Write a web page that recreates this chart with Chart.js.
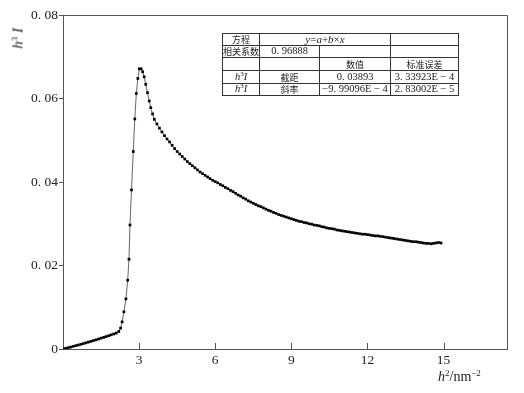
<!DOCTYPE html>
<html>
<head>
<meta charset="utf-8">
<script src="https://cdn.jsdelivr.net/npm/chart.js@4/dist/chart.umd.min.js"></script>
<style>
  html, body { margin: 0; padding: 0; background: #fff; }
  #wrap { position: relative; width: 524px; height: 393px; }
  #c { position: absolute; left: 0; top: 0; }
  .serif { font-family: "Liberation Serif", "Noto Sans CJK SC", serif; color: #222; }
  #ytitle { position: absolute; left: 1px; top: 30px; width: 34px; text-align: center;
            font-size: 15px; transform: rotate(-90deg); white-space: nowrap; }
  #xtitle { position: absolute; left: 438px; top: 369px; font-size: 14px; white-space: nowrap; }
  sup { font-size: 9px; vertical-align: 5px; line-height: 0; }
  #fit { position: absolute; left: 222px; top: 33px; border-collapse: collapse;
         table-layout: fixed; width: 236px; font-size: 10.5px; }
  #fit td { border: 1px solid #333; padding: 0; text-align: center; white-space: nowrap;
            line-height: 1; overflow: hidden; }
  #fit .cjk { font-family: "Noto Sans CJK SC", sans-serif; font-size: 9px; }
  #fit .eq { font-size: 11px; }
  #fit sup { font-size: 7px; vertical-align: 4px; }
</style>
</head>
<body>
<div id="wrap">
  <canvas id="c" width="524" height="393"></canvas>
  <div id="ytitle" class="serif"><i>h</i><sup>3</sup> <i>I</i></div>
  <div id="xtitle" class="serif"><i>h</i><sup>2</sup>/nm<sup>−2</sup></div>
  <table id="fit" class="serif">
    <colgroup><col style="width:37px"><col style="width:60px"><col style="width:71px"><col style="width:68px"></colgroup>
    <tr style="height:12px"><td class="cjk">方程</td><td colspan="2" class="eq"><i>y</i>=<i>a</i>+<i>b</i>×<i>x</i></td><td></td></tr>
    <tr style="height:12px"><td class="cjk">相关系数</td><td>0. 96888</td><td></td><td></td></tr>
    <tr style="height:13px"><td></td><td></td><td class="cjk">数值</td><td class="cjk">标准误差</td></tr>
    <tr style="height:13px"><td><i>h</i><sup>3</sup><i>I</i></td><td class="cjk">截距</td><td>0. 03893</td><td>3. 33923E − 4</td></tr>
    <tr style="height:12px"><td><i>h</i><sup>3</sup><i>I</i></td><td class="cjk">斜率</td><td>−9. 99096E − 4</td><td>2. 83002E − 5</td></tr>
  </table>
</div>
<script>
// low-q region, slow rise
const earlyX = [0, 0.1, 0.2, 0.3, 0.4, 0.5, 0.6, 0.7, 0.8, 0.9, 1.0, 1.1, 1.2, 1.3, 1.4, 1.5,
  1.6, 1.7, 1.8, 1.9, 2.0, 2.1, 2.2];
const earlyY = [0, 0.00015, 0.0003, 0.00046, 0.00062, 0.00079, 0.00095, 0.00112, 0.0013, 0.00147,
  0.00165, 0.00183, 0.00202, 0.0022, 0.00239, 0.00259, 0.00278, 0.00298, 0.00318, 0.00339,
  0.0036, 0.00382, 0.0042];

// steep rise and the peak near h^2 = 3
const peakX = [2.27, 2.33, 2.4, 2.48, 2.55, 2.6, 2.64, 2.7, 2.77, 2.83, 2.89, 2.95, 3.01, 3.08,
  3.14, 3.2, 3.26, 3.33, 3.4, 3.46, 3.53, 3.6];
const peakY = [0.005, 0.0065, 0.0089, 0.012, 0.0165, 0.0215, 0.0297, 0.0381, 0.0473, 0.0551,
  0.0612, 0.0648, 0.0671, 0.0671, 0.0664, 0.0652, 0.0634, 0.0614, 0.0594, 0.0578, 0.0563, 0.055];

// slow decay tail
const decayX = [3.7, 3.8, 3.9, 4.0, 4.1, 4.2, 4.3, 4.4, 4.5, 4.6, 4.7, 4.8, 4.9, 5.0, 5.1, 5.2,
  5.3, 5.4, 5.5, 5.6, 5.7, 5.8, 5.9, 6.0, 6.1, 6.2, 6.3, 6.4, 6.5, 6.6, 6.7, 6.8, 6.9, 7.0,
  7.1, 7.2, 7.3, 7.4, 7.5, 7.6, 7.7, 7.8, 7.9, 8.0, 8.1, 8.2, 8.3, 8.4, 8.5, 8.6, 8.7, 8.8,
  8.9, 9.0, 9.1, 9.2, 9.3, 9.4, 9.5, 9.6, 9.7, 9.8, 9.9, 10.0, 10.1, 10.2, 10.3, 10.4, 10.5,
  10.6, 10.7, 10.8, 10.9, 11.0, 11.1, 11.2, 11.3, 11.4, 11.5, 11.6, 11.7, 11.8, 11.9, 12.0,
  12.1, 12.2, 12.3, 12.4, 12.5, 12.6, 12.7, 12.8, 12.9, 13.0, 13.1, 13.2, 13.3, 13.4, 13.5,
  13.6, 13.7, 13.8, 13.9, 14.0, 14.1, 14.2, 14.3, 14.4, 14.5, 14.6, 14.7, 14.8, 14.9];
const decayY = [0.0539, 0.0529, 0.052, 0.0511, 0.0503, 0.0496, 0.0488, 0.048, 0.0473, 0.0467,
  0.0461, 0.0455, 0.0449, 0.0444, 0.0439, 0.0434, 0.0429, 0.0424, 0.042, 0.0416, 0.0412,
  0.0408, 0.0404, 0.0401, 0.0398, 0.0394, 0.0391, 0.0387, 0.0384, 0.038, 0.0377, 0.0373,
  0.0369, 0.0366, 0.0362, 0.0359, 0.0355, 0.0352, 0.0349, 0.0346, 0.0343, 0.0341, 0.0338,
  0.0335, 0.0332, 0.033, 0.0327, 0.0325, 0.0322, 0.032, 0.0318, 0.0316, 0.0314, 0.0312,
  0.031, 0.0308, 0.0306, 0.0305, 0.0303, 0.0302, 0.03, 0.0299, 0.0297, 0.0296, 0.0295,
  0.0293, 0.0292, 0.029, 0.0289, 0.0288, 0.0287, 0.0285, 0.0284, 0.0283, 0.0282, 0.0281,
  0.028, 0.0279, 0.0278, 0.0277, 0.0276, 0.0275, 0.0275, 0.0274, 0.0273, 0.0272, 0.0271,
  0.0271, 0.027, 0.0269, 0.0268, 0.0267, 0.0266, 0.0265, 0.0264, 0.0263, 0.0262, 0.0261,
  0.026, 0.0259, 0.0258, 0.0257, 0.0257, 0.0256, 0.0255, 0.0254, 0.0253, 0.0253, 0.0252,
  0.0253, 0.0254, 0.0255, 0.0254];

const xTicks = [3, 6, 9, 12, 15];
const yTickLabels = { 0: '0', 0.02: '0. 02', 0.04: '0. 04', 0.06: '0. 06', 0.08: '0. 08' };

const allX = earlyX.concat(peakX, decayX);
const allY = earlyY.concat(peakY, decayY);
const points = allX.map((x, i) => ({ x: x, y: allY[i] }));

const tickFont = { family: 'Liberation Serif', size: 13.5 };

// frame on top/right and x tick marks pointing into the plot
const framePlugin = {
  id: 'frame',
  afterDraw(chart) {
    const { ctx, chartArea: a, scales } = chart;
    ctx.save();
    ctx.strokeStyle = '#555';
    ctx.lineWidth = 1;
    ctx.beginPath();
    ctx.moveTo(a.left, a.top + 0.5);
    ctx.lineTo(a.right + 0.5, a.top + 0.5);
    ctx.lineTo(a.right + 0.5, a.bottom);
    xTicks.forEach(v => {
      const px = Math.round(scales.x.getPixelForValue(v)) + 0.5;
      ctx.moveTo(px, a.bottom);
      ctx.lineTo(px, a.bottom - 6);
    });
    ctx.stroke();
    ctx.restore();
  }
};

new Chart(document.getElementById('c'), {
  type: 'scatter',
  data: {
    datasets: [{
      data: points,
      showLine: true,
      borderColor: '#555',
      borderWidth: 0.9,
      pointStyle: 'rect',
      pointRadius: 1.9,
      pointBorderWidth: 0,
      pointBackgroundColor: '#000'
    }]
  },
  options: {
    responsive: false,
    animation: false,
    layout: { padding: { top: 15, right: 17, left: 0, bottom: 0 } },
    plugins: { legend: { display: false }, tooltip: { enabled: false } },
    scales: {
      x: {
        type: 'linear',
        min: 0,
        max: 17.5,
        afterFit: s => { s.height = 44; },
        afterBuildTicks: s => { s.ticks = xTicks.map(v => ({ value: v })); },
        ticks: { font: tickFont, color: '#222', padding: 3, maxRotation: 0, autoSkip: false },
        grid: { drawOnChartArea: false, drawTicks: false },
        border: { color: '#555', width: 1 }
      },
      y: {
        min: 0,
        max: 0.08,
        afterFit: s => { s.width = 63; },
        ticks: {
          stepSize: 0.02,
          font: tickFont,
          color: '#222',
          padding: 1,
          callback: v => yTickLabels[Math.round(v * 100) / 100]
        },
        grid: { drawOnChartArea: false, tickLength: 4, color: '#555' },
        border: { color: '#555', width: 1 }
      }
    }
  },
  plugins: [framePlugin]
});
</script>
</body>
</html>
